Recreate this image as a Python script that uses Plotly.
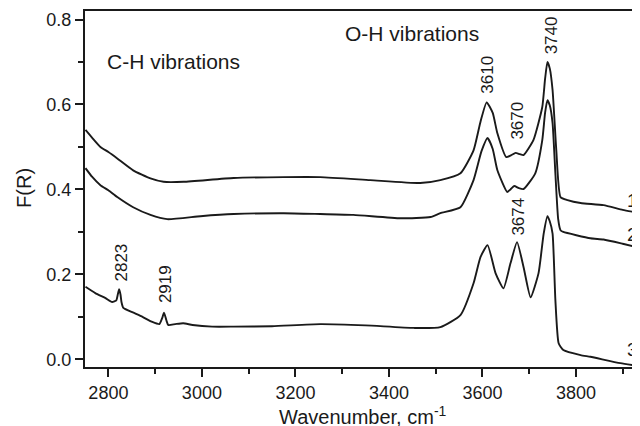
import plotly.graph_objects as go

# Spectrum 1 (top)
wn1 = [2751, 2765, 2783, 2800, 2819, 2853, 2890, 2918, 2961, 3068, 3175, 3253, 3360, 3467, 3510, 3553, 3581, 3596, 3609,
       3622, 3632, 3651, 3661, 3671, 3680, 3688, 3709, 3728, 3734, 3739, 3744, 3750, 3758, 3767, 3782, 3810, 3859, 3900, 3938]
fr1 = [0.540, 0.522, 0.500, 0.488, 0.473, 0.445, 0.426, 0.418, 0.418, 0.427, 0.429, 0.429, 0.422, 0.415, 0.422, 0.438, 0.492, 0.560, 0.605,
       0.580, 0.532, 0.476, 0.480, 0.486, 0.483, 0.481, 0.516, 0.594, 0.660, 0.700, 0.685, 0.634, 0.492, 0.382, 0.375, 0.368, 0.363, 0.352, 0.344]

# Spectrum 2 (middle)
wn2 = [2751, 2765, 2783, 2800, 2819, 2853, 2890, 2926, 2997, 3068, 3175, 3253, 3324, 3425, 3489, 3510, 3553, 3581, 3598, 3611,
       3622, 3632, 3653, 3660, 3668, 3678, 3688, 3713, 3728, 3734, 3739, 3744, 3750, 3756, 3762, 3767, 3773, 3831, 3859, 3900, 3938]
fr2 = [0.450, 0.430, 0.410, 0.398, 0.382, 0.358, 0.340, 0.330, 0.337, 0.342, 0.344, 0.342, 0.340, 0.332, 0.335, 0.344, 0.358, 0.422, 0.490, 0.521,
       0.495, 0.445, 0.394, 0.400, 0.408, 0.403, 0.401, 0.438, 0.516, 0.580, 0.610, 0.598, 0.556, 0.438, 0.330, 0.304, 0.300, 0.285, 0.282, 0.272, 0.262]

# Spectrum 3 (bottom)
wn3 = [2751, 2772, 2794, 2808, 2817, 2820, 2823, 2826, 2828, 2832, 2851, 2873, 2894, 2909, 2915, 2919, 2924, 2928, 2943, 2960, 2980,
       3022, 3068, 3150, 3253, 3350, 3453, 3510, 3553, 3581, 3596, 3611, 3628, 3645, 3660, 3674, 3688, 3703, 3720, 3731, 3739,
       3744, 3750, 3756, 3763, 3773, 3810, 3831, 3895, 3938]
fr3 = [0.171, 0.156, 0.144, 0.135, 0.139, 0.152, 0.165, 0.152, 0.135, 0.121, 0.111, 0.100, 0.088, 0.083, 0.097, 0.110, 0.092, 0.081, 0.083, 0.085, 0.081,
       0.077, 0.077, 0.078, 0.083, 0.080, 0.074, 0.076, 0.104, 0.179, 0.241, 0.269, 0.203, 0.167, 0.226, 0.276, 0.217, 0.146, 0.203, 0.296, 0.337,
       0.325, 0.296, 0.140, 0.038, 0.022, 0.010, 0.006, -0.009, -0.016]

# Peak labels
peak_labels = ["3610", "3670", "3740", "3674", "2823", "2919"]
peak_x = [3611, 3673, 3747, 3677, 2827, 2921]
peak_y = [0.669, 0.561, 0.763, 0.337, 0.228, 0.177]

# Curve numbers
curve_labels = ["1", "2", "3"]
curve_label_x = [3921, 3921, 3921]
curve_label_y = [0.375, 0.295, 0.024]

FONT = "Liberation Sans, Arial, sans-serif"
INK = "#1a1a1a"

fig = go.Figure()
for wn, fr in [(wn1, fr1), (wn2, fr2), (wn3, fr3)]:
    fig.add_trace(go.Scatter(x=wn, y=fr, mode="lines",
                             line=dict(color=INK, width=1.9, shape="spline", smoothing=0.5),
                             showlegend=False, hoverinfo="skip"))

for t, x, y in zip(peak_labels, peak_x, peak_y):
    fig.add_annotation(x=x, y=y, text=t, textangle=-90, showarrow=False,
                       xanchor="center", yanchor="middle", font=dict(size=17, color=INK, family=FONT))
for t, x, y in zip(curve_labels, curve_label_x, curve_label_y):
    fig.add_annotation(x=x, y=y, text=t, showarrow=False,
                       xanchor="center", yanchor="middle", font=dict(size=19, color=INK, family=FONT))

fig.add_annotation(x=2939, y=0.70, text="C-H vibrations", showarrow=False,
                   xanchor="center", yanchor="middle", font=dict(size=21, color=INK, family=FONT))
fig.add_annotation(x=3450, y=0.768, text="O-H vibrations", showarrow=False,
                   xanchor="center", yanchor="middle", font=dict(size=21, color=INK, family=FONT))

# Axis titles
fig.add_annotation(xref="paper", yref="paper", x=0.5, y=-0.1376, text="Wavenumber, cm<sup>-1</sup>",
                   showarrow=False, xanchor="center", yanchor="middle", font=dict(size=20, color=INK, family=FONT))
fig.add_annotation(xref="paper", yref="paper", x=-0.1099, y=0.503, text="F(R)", textangle=-90,
                   showarrow=False, xanchor="center", yanchor="middle", font=dict(size=20, color=INK, family=FONT))

# The page body carries an 8 px margin, so the figure is sized 632x418 and its
# margins are reduced by 8 px to put the plot area where the reference has it.
fig.update_layout(
    width=632, height=418,
    margin=dict(l=77, r=0, t=3, b=59),
    paper_bgcolor="white", plot_bgcolor="white",
    font=dict(family=FONT, color=INK, size=18),
    xaxis=dict(range=[2750, 3937], tickvals=[2800, 3000, 3200, 3400, 3600, 3800],
               ticks="outside", ticklen=8, tickwidth=1.5, tickcolor=INK,
               minor=dict(dtick=100, tick0=2800, ticks="outside", ticklen=5, tickwidth=1.5, tickcolor=INK),
               showline=True, linecolor=INK, linewidth=2, mirror=True, showgrid=False, zeroline=False,
               tickfont=dict(size=18), automargin=False),
    yaxis=dict(range=[-0.018, 0.82], tickvals=[0.0, 0.2, 0.4, 0.6, 0.8], tickformat=".1f",
               ticks="outside", ticklen=8, tickwidth=1.5, tickcolor=INK,
               minor=dict(dtick=0.1, tick0=0, ticks="outside", ticklen=5, tickwidth=1.5, tickcolor=INK),
               showline=True, linecolor=INK, linewidth=2, showgrid=False, zeroline=False,
               tickfont=dict(size=18), automargin=False),
)

fig.write_html("out.html")
